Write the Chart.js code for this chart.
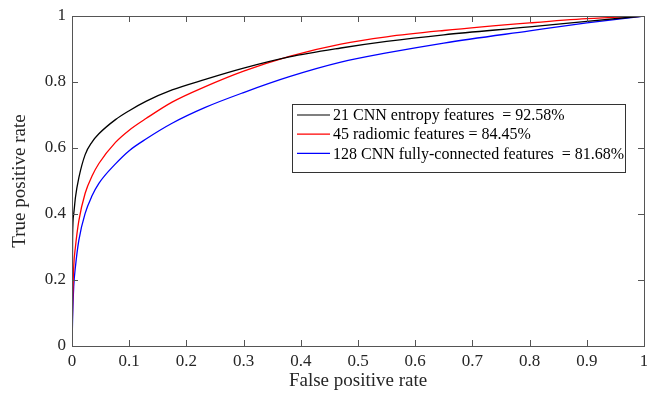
<!DOCTYPE html>
<html>
<head>
<meta charset="utf-8">
<script src="https://cdn.jsdelivr.net/npm/chart.js@4/dist/chart.umd.min.js"></script>
<style>
  html, body { margin: 0; padding: 0; background: #fff; }
  #wrap { width: 647px; height: 394px; }
</style>
</head>
<body>
<div id="wrap"><canvas id="roc"></canvas></div>
<script>
// false positive rate samples
const fpr = [0, 0.001, 0.003, 0.006, 0.012, 0.023, 0.035, 0.047, 0.076, 0.1, 0.13, 0.175, 0.233, 0.3, 0.38, 0.47, 0.55, 0.65, 0.8, 0.9, 1];

// true positive rate per model
const tprEntropy = [0, 0.33, 0.40, 0.45, 0.51, 0.58, 0.618, 0.643, 0.686, 0.713, 0.742, 0.776, 0.808, 0.842, 0.876, 0.903, 0.923, 0.943, 0.967, 0.984, 1];
const tprRadiomic = [0, 0.12, 0.24, 0.30, 0.38, 0.463, 0.515, 0.553, 0.617, 0.654, 0.69, 0.739, 0.786, 0.833, 0.878, 0.915, 0.937, 0.956, 0.979, 0.992, 1];
const tprFully = [0, 0.08, 0.18, 0.24, 0.321, 0.402, 0.455, 0.493, 0.552, 0.592, 0.628, 0.675, 0.723, 0.768, 0.816, 0.86, 0.888, 0.918, 0.955, 0.979, 1];

const seriesLabels = [
  "21 CNN entropy features  = 92.58%",
  "45 radiomic features = 84.45%",
  "128 CNN fully-connected features  = 81.68%"
];
const seriesColors = ["#000000", "#ff0000", "#0000ff"];

const xTicks = [0, 0.1, 0.2, 0.3, 0.4, 0.5, 0.6, 0.7, 0.8, 0.9, 1];
const yTicks = [0, 0.2, 0.4, 0.6, 0.8, 1];

const serif = "'Liberation Serif', 'Times New Roman', serif";
const axisColor = "#262626";

const toPoints = (ys) => ys.map((y, i) => ({ x: fpr[i], y: y }));

// box, inward ticks on all four sides, and the legend inside the plot
const boxPlugin = {
  id: 'boxPlugin',
  afterDraw(chart) {
    const ctx = chart.ctx;
    const a = chart.chartArea;
    const xs = chart.scales.x, ys = chart.scales.y;
    ctx.save();
    ctx.strokeStyle = "#555";
    ctx.lineWidth = 1;
    ctx.strokeRect(Math.round(a.left) + 0.5, Math.round(a.top) + 0.5,
      Math.round(a.right - a.left), Math.round(a.bottom - a.top));
    ctx.beginPath();
    xTicks.forEach(v => {
      const px = Math.round(xs.getPixelForValue(v)) + 0.5;
      ctx.moveTo(px, a.bottom); ctx.lineTo(px, a.bottom - 6);
      ctx.moveTo(px, a.top); ctx.lineTo(px, a.top + 6);
    });
    yTicks.forEach(v => {
      const py = Math.round(ys.getPixelForValue(v)) + 0.5;
      ctx.moveTo(a.left, py); ctx.lineTo(a.left + 6, py);
      ctx.moveTo(a.right, py); ctx.lineTo(a.right - 6, py);
    });
    ctx.stroke();

    // legend
    const lx = 292, ly = 104, lw = 333, lh = 68;
    ctx.fillStyle = "#fff";
    ctx.fillRect(lx, ly, lw, lh);
    ctx.strokeStyle = "#333";
    ctx.strokeRect(lx + 0.5, ly + 0.5, lw, lh);
    ctx.font = "16px " + serif;
    ctx.textBaseline = "middle";
    chart.data.datasets.forEach((ds, i) => {
      const rowY = 115 + i * 19.2;
      ctx.strokeStyle = ds.borderColor;
      ctx.lineWidth = 1.2;
      ctx.beginPath();
      ctx.moveTo(297, rowY); ctx.lineTo(330, rowY);
      ctx.stroke();
      ctx.fillStyle = "#000";
      ctx.fillText(ds.label, 333, rowY + 1);
    });
    ctx.restore();
  }
};

new Chart(document.getElementById("roc"), {
  type: "line",
  data: {
    datasets: [
      { label: seriesLabels[0], data: toPoints(tprEntropy), borderColor: seriesColors[0] },
      { label: seriesLabels[1], data: toPoints(tprRadiomic), borderColor: seriesColors[1] },
      { label: seriesLabels[2], data: toPoints(tprFully), borderColor: seriesColors[2] }
    ].map(d => Object.assign(d, {
      borderWidth: 1.3,
      pointRadius: 0,
      fill: false,
      cubicInterpolationMode: 'monotone'
    }))
  },
  options: {
    animation: false,
    responsive: true,
    maintainAspectRatio: false,
    layout: { padding: { top: 16, right: 3, left: 0, bottom: 0 } },
    plugins: {
      legend: { display: false },
      tooltip: { enabled: false }
    },
    scales: {
      x: {
        type: "linear",
        min: 0, max: 1,
        afterBuildTicks: (s) => { s.ticks = xTicks.map(v => ({ value: v })); },
        afterFit: (s) => { s.height = 48; s.paddingLeft = 0; s.paddingRight = 0; },
        grid: { display: false, drawTicks: false },
        border: { display: false },
        ticks: {
          padding: 5,
          color: axisColor,
          font: { family: serif, size: 17 },
          maxRotation: 0,
          callback: (v) => String(v)
        },
        title: {
          display: true,
          text: "False positive rate",
          color: axisColor,
          font: { family: serif, size: 19, lineHeight: 1.2 },
          padding: { top: 0, bottom: 2 }
        }
      },
      y: {
        type: "linear",
        min: 0, max: 1,
        afterBuildTicks: (s) => { s.ticks = yTicks.map(v => ({ value: v })); },
        afterFit: (s) => { s.width = 72; s.paddingTop = 0; s.paddingBottom = 0; },
        grid: { display: false, drawTicks: false },
        border: { display: false },
        ticks: {
          padding: 6,
          color: axisColor,
          font: { family: serif, size: 17 },
          callback: (v) => String(v)
        },
        title: {
          display: true,
          text: "True positive rate",
          color: axisColor,
          font: { family: serif, size: 19, lineHeight: 1.2 },
          padding: { top: 9, bottom: 0 }
        }
      }
    }
  },
  plugins: [boxPlugin]
});
</script>
</body>
</html>
